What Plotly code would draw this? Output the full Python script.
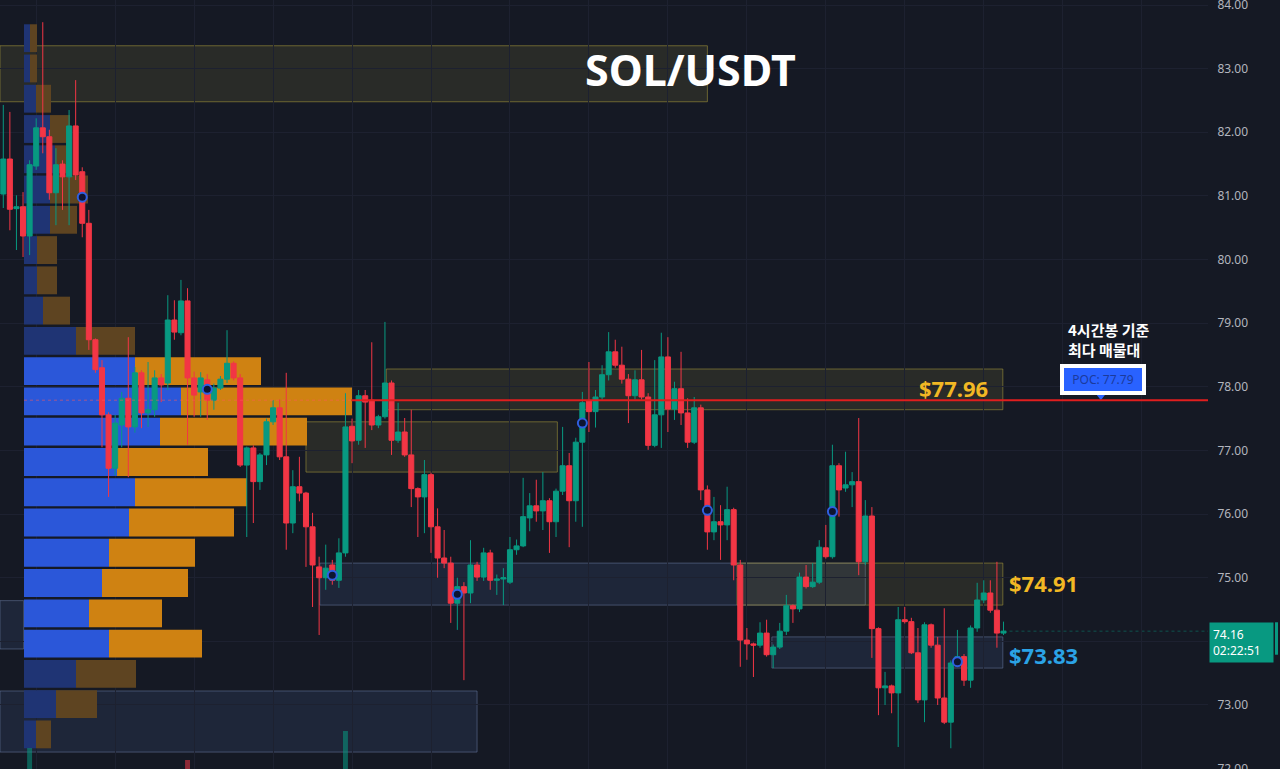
import plotly.graph_objects as go

# ---------------- candle data (4h SOL/USDT) ----------------
opens = [81.03, 81.58, 80.80, 80.83, 80.37, 81.47, 82.07, 81.93, 81.05, 81.50,
         81.30, 82.10, 81.38, 80.57, 78.74, 78.30, 77.56, 76.72, 77.40, 77.82,
         77.37, 78.22, 77.59, 77.64, 78.14, 78.06, 79.05, 78.85, 79.35, 78.14,
         77.92, 78.11, 77.79, 77.98, 78.12, 78.37, 78.14, 76.77, 77.04, 76.51,
         76.93, 77.45, 77.67, 76.90, 75.86, 76.43, 76.33, 75.80, 75.17, 75.00,
         75.20, 74.96, 75.39, 77.38, 77.16, 77.86, 77.79, 77.40, 77.53, 78.06,
         77.16, 77.29, 76.93, 76.40, 76.27, 76.62, 75.80, 75.31, 75.23, 74.60,
         74.86, 74.76, 75.20, 75.01, 75.39, 74.96, 74.98, 74.93, 75.44, 75.50,
         75.94, 76.13, 76.05, 76.21, 75.88, 76.36, 76.76, 76.21, 77.13, 77.78,
         77.61, 77.84, 78.19, 78.55, 78.34, 78.12, 77.86, 78.11, 77.84, 77.08,
         77.56, 78.47, 77.65, 77.97, 77.59, 77.13, 77.67, 76.38, 75.72, 75.88,
         75.83, 76.07, 75.20, 74.02, 73.96, 73.94, 74.13, 73.79, 73.91, 74.16,
         74.56, 74.51, 75.01, 74.86, 74.93, 75.47, 75.33, 76.76, 76.41, 76.46,
         76.51, 75.25, 75.97, 74.20, 73.27, 73.30, 73.19, 74.34, 74.31, 73.82,
         73.08, 74.26, 73.94, 73.11, 72.73, 73.66, 73.76, 73.39, 74.21, 74.65,
         74.76, 74.49, 74.13]
highs = [82.43, 82.32, 81.01, 81.06, 81.56, 82.22, 83.73, 82.04, 81.75, 81.56,
         82.35, 82.82, 81.45, 80.78, 78.76, 78.42, 77.60, 77.56, 77.92, 78.78,
         78.31, 78.26, 78.39, 78.26, 78.20, 79.44, 79.36, 79.68, 79.55, 78.24,
         78.23, 78.20, 78.05, 78.17, 78.89, 78.40, 78.20, 77.06, 77.08, 76.96,
         77.50, 77.79, 77.80, 78.22, 76.69, 76.90, 76.35, 76.02, 75.33, 75.52,
         75.28, 75.62, 77.90, 77.50, 77.95, 77.95, 78.70, 77.56, 79.02, 78.10,
         77.75, 77.51, 77.64, 76.42, 76.85, 76.65, 76.09, 75.75, 75.33, 75.00,
         74.93, 75.59, 75.25, 75.47, 75.44, 75.05, 75.15, 75.64, 75.60, 76.57,
         76.33, 76.54, 76.66, 76.25, 76.40, 77.37, 76.96, 77.20, 77.92, 78.39,
         77.95, 78.34, 78.86, 78.74, 78.63, 78.20, 78.26, 78.58, 77.90, 78.42,
         78.85, 78.78, 78.08, 78.55, 77.82, 77.84, 77.72, 76.45, 76.27, 76.14,
         76.43, 76.10, 75.28, 74.21, 73.98, 74.30, 74.34, 73.95, 74.29, 74.73,
         74.58, 75.08, 75.20, 75.23, 75.59, 75.83, 77.09, 76.80, 76.98, 76.66,
         77.51, 76.22, 76.11, 74.22, 73.52, 73.32, 74.54, 74.54, 74.37, 74.21,
         74.30, 74.28, 74.07, 74.52, 73.70, 74.18, 73.80, 74.25, 74.92, 74.96,
         74.96, 75.25, 74.31]
lows = [80.81, 80.46, 80.15, 80.04, 80.07, 81.41, 81.67, 80.94, 80.54, 80.78,
        80.54, 81.25, 80.35, 78.58, 78.22, 77.05, 76.27, 76.61, 77.05, 76.58,
        77.28, 77.35, 77.37, 77.53, 77.76, 77.95, 78.74, 78.81, 77.09, 77.53,
        77.53, 77.48, 77.64, 77.95, 78.06, 78.10, 76.74, 75.64, 75.86, 76.38,
        76.77, 77.40, 76.85, 75.44, 75.70, 76.20, 75.17, 74.54, 74.10, 74.81,
        74.89, 74.84, 75.33, 76.80, 77.09, 77.04, 77.32, 77.35, 77.50, 76.93,
        77.12, 76.90, 76.11, 75.64, 75.70, 75.39, 75.00, 75.15, 74.29, 74.18,
        73.39, 74.60, 74.95, 74.95, 74.81, 74.73, 74.57, 74.90, 75.36, 75.48,
        75.73, 75.88, 75.75, 75.39, 75.64, 76.30, 75.48, 75.88, 75.80, 77.29,
        77.36, 77.80, 78.10, 78.30, 78.05, 77.43, 77.80, 77.80, 77.01, 77.05,
        77.04, 77.29, 77.48, 77.40, 77.04, 77.10, 76.22, 75.44, 75.59, 75.28,
        75.59, 74.96, 73.60, 73.71, 73.44, 73.90, 73.76, 73.58, 73.88, 74.10,
        74.29, 74.46, 74.83, 74.84, 74.90, 75.30, 75.30, 75.96, 76.35, 76.11,
        75.04, 75.20, 73.74, 72.84, 73.00, 72.87, 72.34, 74.28, 73.80, 73.03,
        72.73, 73.90, 73.00, 72.70, 72.32, 73.60, 73.30, 73.27, 74.15, 74.60,
        74.45, 73.90, 74.10]
closes = [81.58, 80.79, 80.83, 80.37, 81.49, 82.07, 81.93, 81.05, 81.49, 81.30,
          82.10, 81.33, 80.57, 78.74, 78.27, 77.56, 76.72, 77.43, 77.82, 77.37,
          78.22, 77.59, 77.64, 78.14, 78.03, 79.05, 78.86, 79.35, 78.14, 77.87,
          78.14, 77.79, 77.98, 78.12, 78.37, 78.14, 76.77, 77.04, 76.51, 76.93,
          77.45, 77.67, 76.90, 75.86, 76.43, 76.33, 75.80, 75.20, 75.00, 75.15,
          74.96, 75.39, 77.37, 77.15, 77.86, 77.76, 77.40, 77.53, 78.06, 77.16,
          77.29, 76.93, 76.40, 76.27, 76.62, 75.80, 75.31, 75.23, 74.60, 74.86,
          74.76, 75.20, 75.01, 75.39, 74.96, 74.98, 75.00, 75.44, 75.50, 75.96,
          76.13, 76.05, 76.21, 75.88, 76.36, 76.76, 76.21, 77.13, 77.75, 77.61,
          77.84, 78.19, 78.55, 78.34, 78.12, 77.86, 78.11, 77.84, 77.08, 77.56,
          78.47, 77.65, 77.97, 77.59, 77.13, 77.67, 76.38, 75.72, 75.88, 75.83,
          76.07, 75.20, 74.02, 73.96, 73.94, 74.13, 73.79, 73.91, 74.16, 74.56,
          74.51, 75.01, 74.86, 74.93, 75.48, 75.33, 76.76, 76.38, 76.46, 76.51,
          75.25, 75.97, 74.20, 73.27, 73.30, 73.19, 74.34, 74.31, 73.82, 73.08,
          74.26, 73.94, 73.11, 72.73, 73.66, 73.76, 73.39, 74.21, 74.65, 74.76,
          74.49, 74.13, 74.16]

# session markers (every 19 bars)
marker_idx = [12, 31, 50, 69, 88, 107, 126, 145]
marker_price = [80.98, 77.96, 75.04, 74.74, 77.43, 76.06, 76.04, 73.68]

# visible tips of the volume histogram
vol_idx = [4, 28, 52]
vol_val = [2.1, 0.9, 3.8]

# volume profile (rows from the bottom up)
profile_low = 72.30
profile_step = 0.4757
buy_vol = [12, 32, 52, 85, 65, 78, 85, 105, 111, 93, 136, 157, 111,
           52, 19, 13, 13, 26, 26, 31, 26, 12, 6, 6]
sell_vol = [15, 41, 60, 93, 73, 86, 86, 105, 112, 91, 147, 171, 126,
            59, 27, 20, 20, 27, 38, 12, 20, 15, 7, 7]
va_low_row, va_high_row = 3, 12
poc_price = 77.79
last_price = 74.16
countdown = "02:22:51"

# zones: (start bar, end bar, bottom, top, kind)
zones = [
    (-0.5, 107.0, 82.48, 83.36, "supply"),
    (58.2, 151.9, 77.64, 78.28, "supply"),
    (46.0, 84.2, 76.66, 77.45, "supply"),
    (48.1, 131.0, 74.57, 75.23, "demand"),
    (111.5, 151.9, 74.57, 75.23, "supply"),
    (116.8, 151.9, 73.58, 74.07, "demand"),
    (-0.5, 72.0, 72.26, 73.22, "demand"),
    (-0.5, 3.1, 73.88, 74.64, "demand"),
]
level_labels = [("$77.96", 138.9, 77.98, "#f2b824"),
                ("$74.91", 152.5, 74.92, "#f2b824"),
                ("$73.83", 152.5, 73.79, "#2ba3e6")]

BG = "#151924"
GREEN = "#089981"
RED = "#f23645"

idx = list(range(len(opens)))
fig = go.Figure()

# ---- volume profile on base axes (x in volume units) ----
row_mid = [profile_low + profile_step * (k + 0.5) for k in range(len(buy_vol))]
in_va = [va_low_row <= k <= va_high_row for k in range(len(buy_vol))]
fig.add_trace(go.Bar(
    y=row_mid, x=buy_vol, base=[0] * len(buy_vol), orientation="h",
    width=profile_step * 0.92,
    marker=dict(color=["#2b57d9" if v else "#1f3474" for v in in_va], line_width=0),
    xaxis="x", yaxis="y", hoverinfo="skip", showlegend=False))
fig.add_trace(go.Bar(
    y=row_mid, x=sell_vol, base=buy_vol, orientation="h",
    width=profile_step * 0.92,
    marker=dict(color=["#cf8212" if v else "#5e4421" for v in in_va], line_width=0),
    xaxis="x", yaxis="y", hoverinfo="skip", showlegend=False))

# ---- volume histogram tips ----
fig.add_trace(go.Bar(
    x=vol_idx, y=vol_val, width=0.75,
    marker=dict(color=[GREEN if closes[i] >= opens[i] else RED for i in vol_idx],
                opacity=0.55, line_width=0),
    xaxis="x2", yaxis="y3", hoverinfo="skip", showlegend=False))

# ---- candles ----
fig.add_trace(go.Candlestick(
    x=idx, open=opens, high=highs, low=lows, close=closes,
    increasing=dict(line=dict(color=GREEN, width=1), fillcolor=GREEN),
    decreasing=dict(line=dict(color=RED, width=1), fillcolor=RED),
    whiskerwidth=0, xaxis="x2", yaxis="y", hoverinfo="skip", showlegend=False))

# ---- session circles ----
fig.add_trace(go.Scatter(
    x=marker_idx, y=marker_price, mode="markers",
    marker=dict(symbol="circle", size=9, color="#0e1430",
                line=dict(color="#2f5fe0", width=2)),
    xaxis="x2", yaxis="y", hoverinfo="skip", showlegend=False))

# POC pointer triangle
fig.add_trace(go.Scatter(
    x=[166.8], y=[poc_price + 0.06], mode="markers",
    marker=dict(symbol="triangle-down", size=8, color="#2962ff"),
    xaxis="x2", yaxis="y", hoverinfo="skip", showlegend=False))

shapes = []
for x0, x1, y0, y1, kind in zones:
    if kind == "supply":
        fill, line = "rgba(150,140,60,0.16)", "rgba(170,155,60,0.55)"
    else:
        fill, line = "rgba(80,110,165,0.16)", "rgba(110,130,170,0.5)"
    shapes.append(dict(type="rect", xref="x2", yref="y", x0=x0, x1=x1, y0=y0, y1=y1,
                       fillcolor=fill, line=dict(color=line, width=1), layer="below"))
# POC line
shapes.append(dict(type="line", xref="x2", yref="y", x0=3.15, x1=52.9,
                   y0=poc_price, y1=poc_price,
                   line=dict(color="rgba(255,90,90,0.55)", width=1, dash="dot"), layer="above"))
shapes.append(dict(type="line", xref="x2", yref="y", x0=52.9, x1=183.08,
                   y0=poc_price, y1=poc_price,
                   line=dict(color="#e01e1e", width=2), layer="above"))
# last price dotted line
shapes.append(dict(type="line", xref="x2", yref="y", x0=152, x1=183.08,
                   y0=last_price, y1=last_price,
                   line=dict(color="rgba(8,153,129,0.45)", width=1, dash="dot"), layer="below"))
# right edge marker stripe
shapes.append(dict(type="rect", xref="paper", yref="y", x0=1275 / 1280, x1=1278 / 1280,
                   y0=73.79, y1=74.30, fillcolor=GREEN, line_width=0))

annotations = [
    dict(x=104.4, y=82.99, xref="x2", yref="y", text="<b>SOL/USDT</b>", showarrow=False,
         font=dict(family="Noto Sans", size=43, color="white")),
    dict(x=161.5, y=78.74, xref="x2", yref="y", xanchor="left", align="left",
         text="<b>4시간봉 기준<br>최다 매물대</b>", showarrow=False,
         font=dict(family="Noto Sans CJK KR", size=15, color="white")),
    dict(x=167.1, y=78.12, xref="x2", yref="y", text="POC: 77.79", showarrow=False,
         bgcolor="#2962ff", bordercolor="white", borderwidth=4, borderpad=2,
         width=74, height=19,
         font=dict(family="Noto Sans", size=12, color="#1b3a9c")),
    dict(x=1209 / 1280, y=last_price, xref="paper", yref="y", xanchor="left", yanchor="top",
         yshift=9, align="left", showarrow=False, bgcolor=GREEN, borderpad=3, width=57,
         text=f"{last_price:.2f}<br>{countdown}",
         font=dict(family="Noto Sans", size=12, color="white")),
]
for txt, xi, yv, col in level_labels:
    annotations.append(dict(x=xi, y=yv, xref="x2", yref="y", xanchor="left", text=f"<b>{txt}</b>",
                            showarrow=False, font=dict(family="Noto Sans", size=22, color=col)))

ytick = list(range(72, 85))
# the 74.00 label is hidden behind the last-price tag
ytext = ["" if v == 74 else f"{v:.2f}" for v in ytick]
grid_bars = [5 + 12 * k for k in range(16)]

fig.update_layout(
    width=1280, height=769, margin=dict(l=0, r=0, t=0, b=0, autoexpand=False),
    paper_bgcolor=BG, plot_bgcolor=BG,
    boxgap=0.1, boxgroupgap=0.15, barmode="overlay",
    hovermode=False, showlegend=False,
    xaxis=dict(domain=[0, 1208 / 1280], range=[-24, 1184], visible=False, fixedrange=True,
               automargin=False),
    xaxis2=dict(domain=[0, 1208 / 1280], range=[-0.5, 183.08], overlaying="x",
                showticklabels=False, ticks="", tickvals=grid_bars, showgrid=True,
                gridcolor="#1d2130", gridwidth=1, zeroline=False, showline=False,
                automargin=False, rangeslider=dict(visible=False)),
    yaxis=dict(range=[71.994, 84.079], side="right", tickvals=ytick,
               ticktext=ytext, ticks="outside", ticklen=6, ticklabeloverflow="allow",
               automargin=False,
               tickcolor="rgba(0,0,0,0)", showgrid=True, gridcolor="#1d2130",
               zeroline=False, showline=False,
               tickfont=dict(family="Noto Sans", size=12, color="#b2b5be")),
    yaxis3=dict(range=[0, 76.9], overlaying="y", visible=False, automargin=False),
    shapes=shapes, annotations=annotations,
)

fig.write_html("out.html")
